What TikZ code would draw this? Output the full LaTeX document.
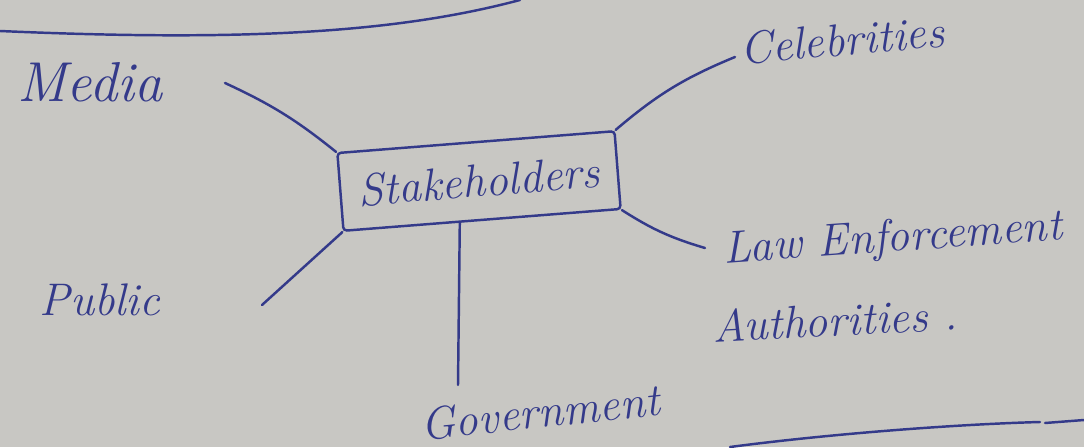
\documentclass[tikz,border=0pt]{standalone}
\usepackage{xcolor}
\usepackage{tikz}
\usetikzlibrary{calc}
\definecolor{paper}{RGB}{200,199,195}
\definecolor{ink}{RGB}{52,58,138}

\begin{document}
\begin{tikzpicture}[
  hand/.style={text=ink,font=\fontsize{26}{30}\selectfont\itshape,inner sep=0pt},
  inkline/.style={draw=ink,line width=1.4pt,line cap=round}]
  \fill[paper] (0,0) rectangle (21.68,8.94);
  \useasboundingbox (0,0) rectangle (21.68,8.94);
  \node[hand,draw=ink,line width=1.4pt,rotate=4.5,minimum width=5.56cm,minimum height=1.56cm,rounded corners=2pt] (stake) at (9.58,5.32){Stakeholders};
  \node[hand,font=\fontsize{32}{36}\selectfont\itshape] (media) at (1.8,7.3){Media};
  \node[hand,rotate=5] (celeb) at (16.84,8.14){Celebrities};
  \node[hand,rotate=4] (law) at (17.86,4.14){Law Enforcement};
  \node[hand,rotate=3] (auth) at (16.7,2.54){Authorities .};
  \node[hand] (public) at (2.0,2.94){Public};
  \node[hand,rotate=6] (gov) at (10.8,0.7){Government};
  \coordinate (mend) at (4.5,7.28);
  \coordinate (cend) at (14.7,7.8);
  \coordinate (lend) at (14.1,3.98);
  \coordinate (pend) at (5.24,2.84);
  \coordinate (gtop) at ($(stake.south west)!0.42!(stake.south east)$);
  \coordinate (gend) at (9.16,1.24);
  \draw[inkline] (stake.north west) to[bend right=7] (mend);
  \draw[inkline] (stake.north east) to[bend left=9] (cend);
  \draw[inkline] (stake.south east) to[bend right=8] (lend);
  \draw[inkline] (stake.south west) -- (pend);
  \draw[inkline] (gtop) -- (gend);
  \draw[inkline] (0,8.32) .. controls (5,8.1) and (8,8.3) .. (10.4,8.94);
  \draw[inkline] (14.6,0) .. controls (16.5,0.25) and (19,0.45) .. (20.8,0.5);
  \draw[inkline] (20.9,0.48) -- (21.68,0.54);
\end{tikzpicture}
\end{document}
